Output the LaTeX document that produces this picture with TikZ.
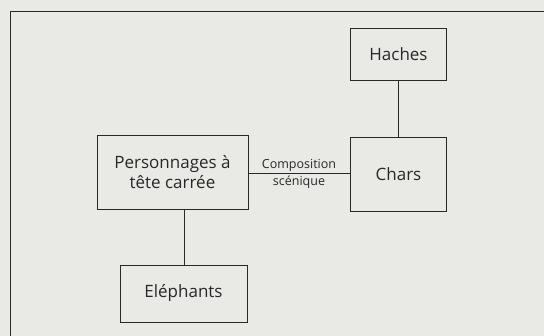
\documentclass[tikz,border=0pt]{standalone}
\usepackage{fontspec}
\setmainfont{Open Sans}
\definecolor{paper}{RGB}{233,233,230}
\definecolor{ink}{RGB}{40,40,40}
\tikzset{
  box/.style={draw=ink, line width=0.9pt, text=ink, font=\fontsize{17}{20}\selectfont,
              align=center, inner sep=0pt},
  link/.style={draw=ink, line width=0.9pt},
  tag/.style={text=ink, font=\fontsize{12.5}{17}\selectfont, align=center, inner sep=0pt}
}
\begin{document}
\begin{tikzpicture}[x=1pt, y=-1pt]
  \useasboundingbox (0,0) rectangle (544,336);
  \fill[paper] (0,0) rectangle (544,336);
  % outer frame running off the page edges
  \begin{scope}
    \clip (0,0) rectangle (544,336);
    \draw[ink, line width=0.9pt] (10,11) rectangle (600,400);
  \end{scope}
  % boxes
  \node[box, minimum width=96pt, minimum height=52pt] (haches) at (398.5,54) {Haches};
  \node[box, minimum width=96pt, minimum height=74pt] (chars) at (398.5,174) {Chars};
  \node[box, minimum width=151pt, minimum height=74pt] (perso) at (172.5,172) {Personnages à\\tête carrée};
  \node[box, minimum width=127pt, minimum height=57pt] (eleph) at (183.5,293.5) {Eléphants};
  % connectors
  \draw[link] (haches.south) -- (chars.north);
  \draw[link] (perso.east |- 0,173) -- (chars.west |- 0,173);
  \draw[link] (perso.south -| 184,0) -- (eleph.north -| 184,0);
  \node[tag] (comp) at (299,173.5) {Composition\\scénique};
\end{tikzpicture}
\end{document}
